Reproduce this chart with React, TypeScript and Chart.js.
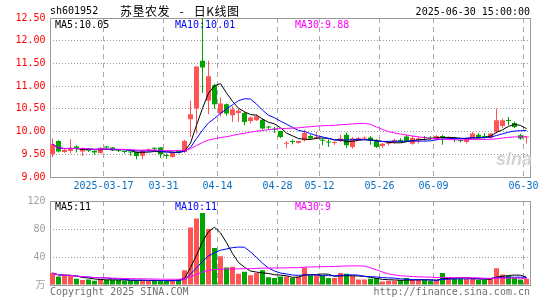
import React, { useEffect, useRef } from 'react';
import { Chart, registerables } from 'chart.js';

Chart.register(...registerables);

// ---- data ----
const dates: string[] = [
  '2025-03-04', '2025-03-05', '2025-03-06', '2025-03-07', '2025-03-10', '2025-03-11', '2025-03-12', '2025-03-13', '2025-03-14', '2025-03-17',
  '2025-03-18', '2025-03-19', '2025-03-20', '2025-03-21', '2025-03-24', '2025-03-25', '2025-03-26', '2025-03-27', '2025-03-28', '2025-03-31',
  '2025-04-01', '2025-04-02', '2025-04-03', '2025-04-07', '2025-04-08', '2025-04-09', '2025-04-10', '2025-04-11', '2025-04-14', '2025-04-15',
  '2025-04-16', '2025-04-17', '2025-04-18', '2025-04-21', '2025-04-22', '2025-04-23', '2025-04-24', '2025-04-25', '2025-04-28', '2025-04-29',
  '2025-04-30', '2025-05-06', '2025-05-07', '2025-05-08', '2025-05-09', '2025-05-12', '2025-05-13', '2025-05-14', '2025-05-15', '2025-05-16',
  '2025-05-19', '2025-05-20', '2025-05-21', '2025-05-22', '2025-05-23', '2025-05-26', '2025-05-27', '2025-05-28', '2025-05-29', '2025-05-30',
  '2025-06-03', '2025-06-04', '2025-06-05', '2025-06-06', '2025-06-09', '2025-06-10', '2025-06-11', '2025-06-12', '2025-06-13', '2025-06-16',
  '2025-06-17', '2025-06-18', '2025-06-19', '2025-06-20', '2025-06-23', '2025-06-24', '2025-06-25', '2025-06-26', '2025-06-27', '2025-06-30',
];

const opens: number[] = [
  9.50, 9.79, 9.55, 9.57, 9.67, 9.56, 9.61, 9.57, 9.53, 9.67,
  9.65, 9.60, 9.56, 9.56, 9.55, 9.47, 9.57, 9.63, 9.65, 9.48,
  9.44, 9.56, 9.55, 10.27, 10.51, 11.56, 10.68, 11.02, 10.40, 10.60,
  10.36, 10.41, 10.41, 10.23, 10.25, 10.26, 10.10, 10.06, 10.01, 9.73,
  9.78, 9.75, 9.81, 9.90, 9.85, 9.82, 9.77, 9.75, 9.79, 9.93,
  9.66, 9.81, 9.85, 9.87, 9.80, 9.68, 9.73, 9.77, 9.80, 9.89,
  9.73, 9.81, 9.87, 9.87, 9.83, 9.89, 9.86, 9.84, 9.80, 9.77,
  9.86, 9.93, 9.89, 9.86, 9.99, 10.12, 10.24, 10.19, 9.92, 9.87,
];
const highs: number[] = [
  9.85, 9.81, 9.61, 9.83, 9.70, 9.65, 9.63, 9.59, 9.66, 9.69,
  9.66, 9.61, 9.58, 9.56, 9.56, 9.60, 9.63, 9.65, 9.66, 9.52,
  9.56, 9.58, 9.82, 10.68, 11.43, 12.52, 11.56, 11.05, 10.75, 10.62,
  10.56, 10.50, 10.43, 10.33, 10.38, 10.28, 10.12, 10.10, 10.02, 9.79,
  9.83, 9.80, 10.04, 9.94, 9.99, 9.85, 9.83, 9.78, 9.93, 9.98,
  9.88, 9.88, 9.89, 9.90, 9.83, 9.75, 9.79, 9.84, 9.86, 9.93,
  9.91, 9.89, 9.90, 9.90, 9.92, 9.93, 9.89, 9.88, 9.83, 9.88,
  9.99, 9.97, 9.97, 9.97, 10.51, 10.29, 10.32, 10.22, 9.95, 9.90,
];
const lows: number[] = [
  9.44, 9.54, 9.53, 9.52, 9.54, 9.46, 9.55, 9.49, 9.52, 9.63,
  9.58, 9.55, 9.52, 9.47, 9.39, 9.39, 9.55, 9.58, 9.42, 9.40,
  9.43, 9.52, 9.53, 9.88, 9.95, 10.85, 10.38, 10.50, 10.33, 10.35,
  10.21, 10.21, 10.14, 10.18, 10.23, 10.04, 10.04, 9.97, 9.86, 9.64,
  9.72, 9.73, 9.78, 9.82, 9.83, 9.70, 9.66, 9.71, 9.77, 9.64,
  9.62, 9.79, 9.83, 9.71, 9.64, 9.64, 9.70, 9.73, 9.76, 9.77,
  9.71, 9.74, 9.80, 9.82, 9.81, 9.71, 9.82, 9.77, 9.76, 9.74,
  9.84, 9.84, 9.84, 9.84, 9.96, 10.08, 10.14, 10.08, 9.82, 9.74,
];
const closes: number[] = [
  9.72, 9.56, 9.60, 9.64, 9.61, 9.63, 9.58, 9.54, 9.64, 9.65,
  9.59, 9.58, 9.55, 9.54, 9.46, 9.58, 9.61, 9.62, 9.50, 9.46,
  9.55, 9.55, 9.79, 10.38, 11.43, 11.41, 11.22, 10.60, 10.62, 10.40,
  10.49, 10.46, 10.21, 10.31, 10.34, 10.07, 10.09, 10.04, 9.88, 9.75,
  9.77, 9.79, 9.97, 9.85, 9.88, 9.80, 9.76, 9.77, 9.85, 9.70,
  9.85, 9.86, 9.86, 9.80, 9.66, 9.73, 9.77, 9.81, 9.79, 9.78,
  9.86, 9.85, 9.86, 9.85, 9.90, 9.88, 9.87, 9.83, 9.79, 9.85,
  9.96, 9.86, 9.88, 9.96, 10.25, 10.25, 10.23, 10.10, 9.85, 9.88,
];
// volume in 万 (10k) shares
const volumes: number[] = [
  17, 12, 13, 13, 9, 7, 8, 6, 9, 7,
  7, 7, 6, 6, 7, 7, 6, 6, 6, 6,
  7, 8, 21, 82, 95, 103, 80, 53, 41, 25,
  26, 16, 19, 14, 17, 21, 11, 10, 12, 12,
  10, 12, 25, 14, 14, 14, 10, 10, 17, 16,
  13, 8, 8, 9, 10, 5, 6, 6, 7, 10,
  7, 7, 7, 6, 7, 17, 10, 9, 9, 9,
  9, 7, 7, 9, 24, 15, 13, 10, 8, 9,
];

const axisDates: string[] = ['2025-03-17', '2025-03-31', '2025-04-14', '2025-04-28', '2025-05-12', '2025-05-26', '2025-06-09', '2025-06-30'];
const axisLabels: string[] = ['2025-03-17', '03-31', '04-14', '04-28', '05-12', '05-26', '06-09', '06-30'];

const priceTicks: number[] = [9, 12.5, 0.5]; // min, max, step
const volumeTicks: number[] = [0, 120, 40];

const priceLegend: string[] = ['MA5:10.05', 'MA10:10.01', 'MA30:9.88'];
const volumeLegend: string[] = ['MA5:11', 'MA10:11', 'MA30:9'];

// ---- styles ----
const RED = '#ff5454';
const GREEN = '#00a400';
const MA_COLORS = ['#000000', '#0000ff', '#ff00ff'];
const MONO = '"DejaVu Sans Mono", "Noto Sans CJK SC", monospace';

function movingAverage(values: number[], n: number): number[] {
  return values.map((_, i) => {
    const s = Math.max(0, i - n + 1);
    let sum = 0;
    for (let k = s; k <= i; k++) sum += values[k];
    return sum / (i - s + 1);
  });
}

const labelIndex: Record<number, string> = {};
axisDates.forEach((d, k) => {
  const i = dates.indexOf(d);
  if (i >= 0) labelIndex[i] = axisLabels[k];
});

const framePlugin = {
  id: 'frame',
  beforeDatasetsDraw(chart: any) {
    const { ctx, chartArea: a } = chart;
    ctx.save();
    ctx.strokeStyle = '#999';
    ctx.lineWidth = 1;
    ctx.setLineDash([]);
    const l = Math.round(a.left) + 0.5;
    const r = Math.round(a.right) + 0.5;
    const t = Math.round(a.top) + 0.5;
    const b = Math.round(a.bottom) + 0.5;
    ctx.strokeRect(l, t, r - l, b - t);
    ctx.restore();
  },
};

const TRANSPARENT = 'rgba(0,0,0,0)';

export default function App() {
  const priceRef = useRef<HTMLCanvasElement | null>(null);
  const volRef = useRef<HTMLCanvasElement | null>(null);

  useEffect(() => {
    const up = closes.map((c, i) => c >= opens[i]);
    const colors = up.map((u) => (u ? RED : GREEN));

    const xScaleCommon = (showLabels: boolean) => ({
      type: 'category',
      offset: true,
      grid: {
        offset: true,
        drawTicks: false,
        color: (ctx: any) => (labelIndex[ctx.index] !== undefined ? '#aaa' : TRANSPARENT),
        lineWidth: 1,
      },
      border: { display: false, dash: [5, 4] },
      ticks: {
        display: showLabels,
        autoSkip: false,
        maxRotation: 0,
        minRotation: 0,
        padding: 0,
        labelOffset: -3,
        color: '#0a6fc2',
        font: { family: MONO, size: 10, lineHeight: 1.9 },
        callback: (_v: any, i: number) => labelIndex[i] ?? '',
      },
      afterFit: (scale: any) => {
        scale.height = showLabels ? 23 : 0;
      },
    });

    const lineDs = (data: number[], color: string) => ({
      type: 'line',
      data,
      borderColor: color,
      backgroundColor: color,
      borderWidth: 1,
      pointRadius: 0,
      pointHoverRadius: 0,
      tension: 0,
      order: 0,
    });

    const priceChart = new Chart(priceRef.current as HTMLCanvasElement, {
      type: 'bar',
      data: {
        labels: dates,
        datasets: [
          {
            type: 'bar',
            data: lows.map((l, i) => [l, highs[i]]),
            backgroundColor: colors,
            barThickness: 1,
            grouped: false,
            inflateAmount: 0,
            borderWidth: 0,
            order: 2,
          } as any,
          {
            type: 'bar',
            data: opens.map((o, i) => [o, closes[i]]),
            backgroundColor: colors,
            barThickness: 5,
            grouped: false,
            minBarLength: 1,
            inflateAmount: 0,
            borderWidth: 0,
            order: 1,
          } as any,
          lineDs(movingAverage(closes, 30), MA_COLORS[2]) as any,
          lineDs(movingAverage(closes, 10), MA_COLORS[1]) as any,
          lineDs(movingAverage(closes, 5), MA_COLORS[0]) as any,
        ],
      },
      options: {
        animation: false,
        responsive: false,
        events: [],
        layout: { padding: { left: 0, right: 15.5, top: 18, bottom: 0 } },
        plugins: { legend: { display: false }, tooltip: { enabled: false } },
        scales: {
          x: xScaleCommon(true) as any,
          y: {
            type: 'linear',
            min: priceTicks[0],
            max: priceTicks[1],
            ticks: {
              stepSize: priceTicks[2],
              padding: 4,
              color: '#ff0000',
              font: { family: MONO, size: 10 },
              callback: (v: any) => Number(v).toFixed(2),
            },
            grid: {
              drawTicks: false,
              color: (ctx: any) => {
                const v = ctx.tick?.value;
                return v !== undefined && v > priceTicks[0] + 1e-6 && v < priceTicks[1] - 1e-6 ? '#999' : TRANSPARENT;
              },
            },
            border: { display: false, dash: [1, 2] },
            afterFit: (scale: any) => {
              scale.width = 49.5;
            },
          } as any,
        },
      },
      plugins: [framePlugin],
    } as any);

    const volChart = new Chart(volRef.current as HTMLCanvasElement, {
      type: 'bar',
      data: {
        labels: dates,
        datasets: [
          {
            type: 'bar',
            data: volumes,
            backgroundColor: colors,
            barThickness: 5,
            inflateAmount: 0,
            borderWidth: 0,
            grouped: false,
            order: 1,
          } as any,
          lineDs(movingAverage(volumes, 30), MA_COLORS[2]) as any,
          lineDs(movingAverage(volumes, 10), MA_COLORS[1]) as any,
          lineDs(movingAverage(volumes, 5), MA_COLORS[0]) as any,
        ],
      },
      options: {
        animation: false,
        responsive: false,
        events: [],
        layout: { padding: { left: 0, right: 15.5, top: 11, bottom: 15 } },
        plugins: { legend: { display: false }, tooltip: { enabled: false } },
        scales: {
          x: xScaleCommon(false) as any,
          y: {
            type: 'linear',
            min: volumeTicks[0],
            max: volumeTicks[1],
            ticks: {
              stepSize: volumeTicks[2],
              padding: 4,
              color: '#a0a0a0',
              font: { family: MONO, size: 10 },
              callback: (v: any) => (Number(v) === 0 ? '万' : String(v)),
            },
            grid: {
              drawTicks: false,
              color: (ctx: any) => {
                const v = ctx.tick?.value;
                return v !== undefined && v > volumeTicks[0] && v < volumeTicks[1] ? '#999' : TRANSPARENT;
              },
            },
            border: { display: false, dash: [1, 2] },
            afterFit: (scale: any) => {
              scale.width = 49.5;
            },
          } as any,
        },
      },
      plugins: [framePlugin],
    } as any);

    return () => {
      priceChart.destroy();
      volChart.destroy();
    };
  }, []);

  const txt = (extra: React.CSSProperties): React.CSSProperties => ({
    position: 'absolute',
    fontFamily: MONO,
    fontSize: 10,
    lineHeight: '12px',
    whiteSpace: 'pre',
    ...extra,
  });

  const legendLeft = [55, 175, 295];

  return (
    <div style={{ position: 'fixed', left: 0, top: 0, width: 545, height: 300, background: '#fff', overflow: 'hidden' }}>
      <canvas ref={priceRef} width={545} height={200} style={{ position: 'absolute', left: 0, top: 0 }} />
      <canvas ref={volRef} width={545} height={110} style={{ position: 'absolute', left: 0, top: 190 }} />

      <span style={txt({ left: 50, top: 5, color: '#000' })}>sh601952</span>
      <span
        style={txt({
          left: 120,
          top: 3,
          fontFamily: '"Noto Sans CJK SC", sans-serif',
          fontSize: 12,
          lineHeight: '15px',
          letterSpacing: 0.5,
          color: '#000',
        })}
      >
        {'苏垦农发   -   日K线图'}
      </span>
      <span style={txt({ right: 15, top: 6, color: '#000' })}>2025-06-30 15:00:00</span>

      {priceLegend.map((t, i) => (
        <span key={'p' + i} style={txt({ left: legendLeft[i], top: 19, color: MA_COLORS[i] })}>
          {t}
        </span>
      ))}
      {volumeLegend.map((t, i) => (
        <span key={'v' + i} style={txt({ left: legendLeft[i], top: 201, color: MA_COLORS[i] })}>
          {t}
        </span>
      ))}

      <span
        style={txt({
          left: 496,
          top: 149,
          fontFamily: '"Liberation Sans", sans-serif',
          fontSize: 18,
          lineHeight: '20px',
          fontWeight: 'bold',
          fontStyle: 'italic',
          color: '#d4d4d4',
        })}
      >
        sina
      </span>

      <span style={txt({ left: 50, top: 286, color: '#707070' })}>Copyright 2025 SINA.COM</span>
      <span style={txt({ right: 15, top: 286, color: '#707070' })}>http://finance.sina.com.cn</span>
    </div>
  );
}
